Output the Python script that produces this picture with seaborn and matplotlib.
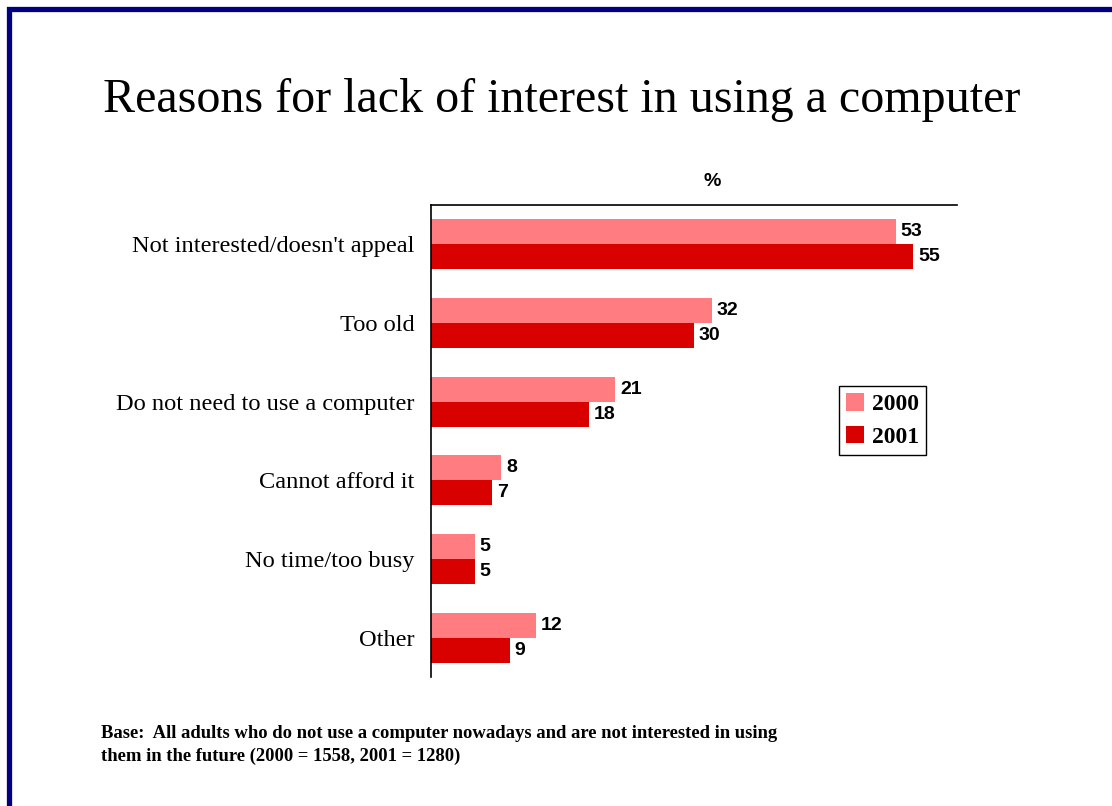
import matplotlib
matplotlib.use("Agg")
import matplotlib.pyplot as plt
import matplotlib.patches as mpatches
import seaborn as sns
import pandas as pd

# Survey categories and shares (%) for each year
reasons = [
    "Not interested/doesn't appeal",
    "Too old",
    "Do not need to use a computer",
    "Cannot afford it",
    "No time/too busy",
    "Other",
]
years = ["2000", "2001"]
values_2000 = [53, 32, 21, 8, 5, 12]
values_2001 = [55, 30, 18, 7, 5, 9]

title = "Reasons for lack of interest in using a computer"
base_note = ("Base:  All adults who do not use a computer nowadays and are not interested in using\n"
             "them in the future (2000 = 1558, 2001 = 1280)")

colors = {"2000": "#FF7C80", "2001": "#D90000"}

df = pd.DataFrame({
    "reason": reasons * 2,
    "year": [years[0]] * len(reasons) + [years[1]] * len(reasons),
    "pct": values_2000 + values_2001,
})

sns.set_theme(style="white")
plt.rcParams["font.family"] = ["Liberation Serif", "DejaVu Serif"]
plt.rcParams["text.color"] = "black"
plt.rcParams["ytick.color"] = "black"

fig = plt.figure(figsize=(11.12, 8.06), dpi=100)
ax = fig.add_axes([431 / 1112, 1 - 677 / 806, (957 - 431) / 1112, (677 - 205) / 806])

sns.barplot(data=df, y="reason", x="pct", hue="year", order=reasons,
            hue_order=years, palette=colors, orient="h", width=0.635,
            saturation=1, linewidth=0, ax=ax, legend=False)

ax.set_xlim(0, 60)
ax.set_ylim(len(reasons) - 0.5, -0.5)
ax.set_xlabel("")
ax.set_ylabel("")
ax.set_xticks([])
ax.tick_params(axis="y", length=0, pad=12)
for lbl in ax.get_yticklabels():
    lbl.set_fontsize(17.6)
    lbl.set_family(["Liberation Serif"])
    lbl.set_color("black")

for side in ("right", "bottom"):
    ax.spines[side].set_visible(False)
for side in ("left", "top"):
    ax.spines[side].set_visible(True)
    ax.spines[side].set_color("black")
    ax.spines[side].set_linewidth(1.2)

# Value labels at bar ends
for container in ax.containers:
    ax.bar_label(container, fmt="%d", padding=3.5, fontsize=14, fontweight="bold",
                 family=["Liberation Sans"], color="black")

fig.text(712 / 1112, 1 - 182 / 806, "%", ha="center", va="center", fontsize=14,
         fontweight="bold", family=["Liberation Sans"])

fig.text(562 / 1112, 1 - 100 / 806, title, ha="center", va="center", fontsize=34.6,
         family=["Liberation Serif"])

fig.text(101 / 1112, 1 - 745 / 806, base_note, ha="left", va="center", fontsize=13.4,
         fontweight="bold", family=["Liberation Serif"], linespacing=1.48)

# Legend
handles = [mpatches.Patch(facecolor=colors[y], edgecolor="none", label=y) for y in years]
leg = fig.legend(handles=handles, loc="center", bbox_to_anchor=(882.5 / 1112, 1 - 420.5 / 806),
                 frameon=True, fancybox=False, edgecolor="black", framealpha=1,
                 prop={"family": "Liberation Serif", "weight": "bold", "size": 17},
                 handlelength=0.75, handleheight=0.75, handletextpad=0.35,
                 labelspacing=0.45, borderpad=0.3)
leg.get_frame().set_linewidth(1.0)

# Page frame
frame = mpatches.Rectangle((8.5 / 1112, -0.05), 1.2, 1 - 9.5 / 806 + 0.05,
                           transform=fig.transFigure, fill=False,
                           edgecolor="#000080", linewidth=3.8, clip_on=False)
fig.patches.append(frame)

fig.savefig("out.png", dpi=100)
